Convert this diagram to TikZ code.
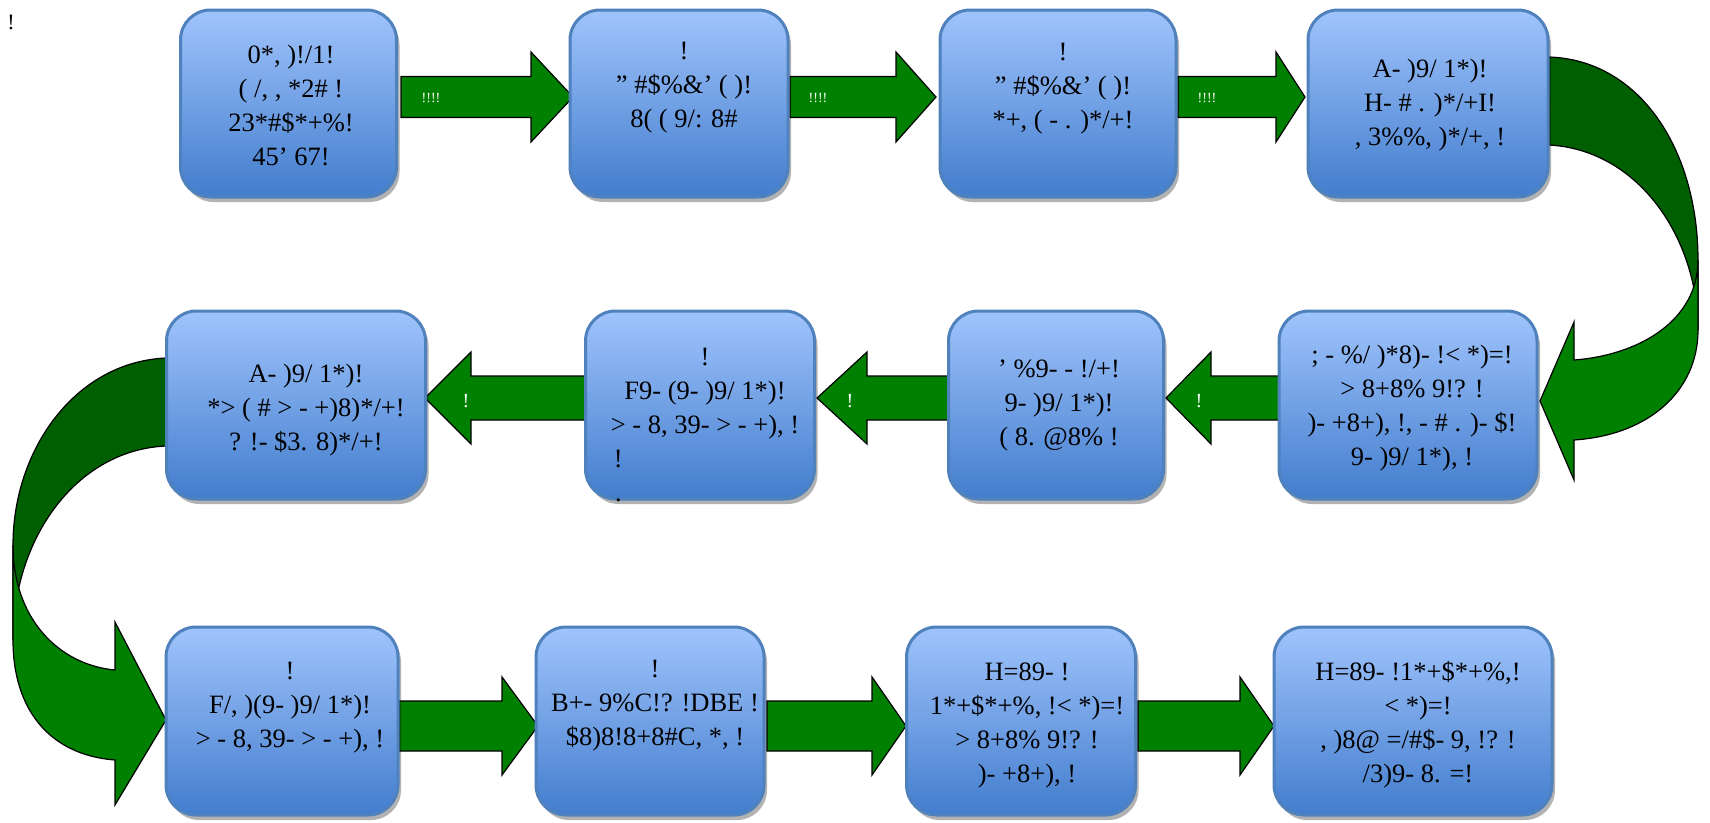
\documentclass[tikz,border=0pt]{standalone}
\usepackage{fontspec}
\setmainfont{Liberation Serif}
\usetikzlibrary{shadows}
\definecolor{boxtop}{RGB}{160,196,252}
\definecolor{boxbot}{RGB}{66,125,205}
\definecolor{boxline}{RGB}{79,129,189}
\definecolor{gfront}{RGB}{0,128,0}
\definecolor{gback}{RGB}{0,95,0}
\tikzset{
  box/.style={draw=boxline, line width=3pt, rounded corners=30pt, top color=boxtop, bottom color=boxbot,
    drop shadow={shadow xshift=3pt, shadow yshift=-5pt, fill=black, opacity=0.3}},
  btext/.style={align=center, font=\fontsize{26.5}{34}\selectfont, inner sep=0pt},
  garrow/.style={fill=gfront, draw=black, line width=1.2pt, line join=miter},
  gbackst/.style={fill=gback, draw=black, line width=1.2pt},
  alabel/.style={text=white, font=\fontsize{14}{16}\selectfont, inner sep=0pt},
}
\newcommand\blockarrow[6]{\draw[garrow] (#1,{#4-#5}) -- (#2,{#4-#5}) -- (#2,{#4-#6}) -- (#3,#4) -- (#2,{#4+#6}) -- (#2,{#4+#5}) -- (#1,{#4+#5}) -- cycle;}
\begin{document}
\begin{tikzpicture}[x=1pt,y=-1pt]
\useasboundingbox (0,0) rectangle (1710,822);
\fill[white] (0,0) rectangle (1710,822);
\node[font=\fontsize{22}{24}\selectfont, inner sep=0pt] (tl) at (11,22) {!};
% curved arrows
\draw[gbackst] (1549,57) .. controls (1640,60) and (1698,150) .. (1698,260) -- (1698,330) .. controls (1698,240) and (1640,150) .. (1549,145) -- cycle;
\draw[garrow] (1698,260) .. controls (1698,320) and (1640,355) .. (1574,360) -- (1574,322) -- (1540,401) -- (1574,480) -- (1574,440) .. controls (1650,435) and (1698,390) .. (1698,330) -- cycle;
\draw[gbackst] (166,358) .. controls (75,362) and (13,450) .. (13,545) -- (13,640) .. controls (13,540) and (75,450) .. (166,446) -- cycle;
\draw[garrow] (13,545) .. controls (13,620) and (60,665) .. (115,670) -- (115,622) -- (166,720) -- (115,805) -- (115,760) .. controls (50,755) and (13,710) .. (13,640) -- cycle;
% straight arrows
\blockarrow{401}{531}{573}{97}{20.5}{45}
\blockarrow{790}{896}{936}{97}{20.5}{45}
\blockarrow{1178}{1276}{1305}{97}{20.5}{45}
\blockarrow{1279}{1211}{1166}{398}{22}{46}
\blockarrow{948}{867}{817}{398}{22}{46}
\blockarrow{586}{471}{425}{398}{22}{46}
\blockarrow{399}{502}{538}{726}{25}{49}
\blockarrow{767}{872}{906}{726}{25}{49}
\blockarrow{1138}{1240}{1274}{726}{25}{49}
\node[alabel] (l1) at (431,98) {!!!!};
\node[alabel] (l2) at (818,98) {!!!!};
\node[alabel] (l3) at (1207,98) {!!!!};
\node[alabel, font=\fontsize{20}{22}\selectfont] (l4) at (466,401) {!};
\node[alabel, font=\fontsize{20}{22}\selectfont] (l5) at (850,401) {!};
\node[alabel, font=\fontsize{20}{22}\selectfont] (l6) at (1199,401) {!};
% boxes
\node[box, minimum width=216pt, minimum height=187pt] (b1) at (288.5,103.5) {};
\node[box, minimum width=218pt, minimum height=187pt] (b2) at (679,103.5) {};
\node[box, minimum width=236pt, minimum height=187pt] (b3) at (1058,103.5) {};
\node[box, minimum width=240pt, minimum height=187pt] (b4) at (1428,103.5) {};
\node[box, minimum width=259pt, minimum height=188pt] (b5) at (296,405) {};
\node[box, minimum width=229pt, minimum height=188pt] (b6) at (700,405) {};
\node[box, minimum width=215pt, minimum height=188pt] (b7) at (1056,405) {};
\node[box, minimum width=258pt, minimum height=188pt] (b8) at (1408,405) {};
\node[box, minimum width=232pt, minimum height=188pt] (b9) at (282,721) {};
\node[box, minimum width=228pt, minimum height=188pt] (b10) at (650,721) {};
\node[box, minimum width=229pt, minimum height=188pt] (b11) at (1021,721) {};
\node[box, minimum width=278pt, minimum height=188pt] (b12) at (1413,721) {};
% texts
\node[btext] (t1) at (291,105) {0*, )!/1!\\( /, , *2\# !\\23*\#\$*+\%!\\45' 67!};
\node[btext] (t2) at (684,88) {!\\" \#\$\%\&' ( )!\\8( ( 9/: 8\#};
\node[btext] (t3) at (1063,89) {!\\" \#\$\%\&' ( )!\\*+, ( - . )*/+!};
\node[btext] (t4) at (1430,105) {A- )9/ 1*)!\\H- \# . )*/+I!\\, 3\%\%, )*/+, !};
\node[btext] (t5) at (306,410) {A- )9/ 1*)!\\*> ( \# > - +)8)*/+!\\? !- \$3. 8)*/+!};
\node[btext] (t6) at (705,425) {!\\F9- (9- )9/ 1*)!\\> - 8, 39- > - +), !\\!\hphantom{ - 8, 39- > - +), !}\\.\hphantom{ - 8, 39- > - +), !}};
\node[btext] (t7) at (1059,406) {' \%9- - !/+!\\9- )9/ 1*)!\\( 8. @8\% !};
\node[btext] (t8) at (1412,408) {; - \%/ )*8)- !< *)=!\\> 8+8\% 9!? !\\)- +8+), !, - \# . )- \$!\\9- )9/ 1*), !};
\node[btext] (t9) at (290,708) {!\\F/, )(9- )9/ 1*)!\\> - 8, 39- > - +), !};
\node[btext] (t10) at (655,706) {!\\B+- 9\%C!? !DBE !\\\$8)8!8+8\#C, *, !};
\node[btext] (t11) at (1027,725) {H=89- !\\1*+\$*+\%, !< *)=!\\> 8+8\% 9!? !\\)- +8+), !};
\node[btext] (t12) at (1418,725) {H=89- !1*+\$*+\%,!\\< *)=!\\, )8@ =/\#\$- 9, !? !\\/3)9- 8. =!};
\end{tikzpicture}
\end{document}
